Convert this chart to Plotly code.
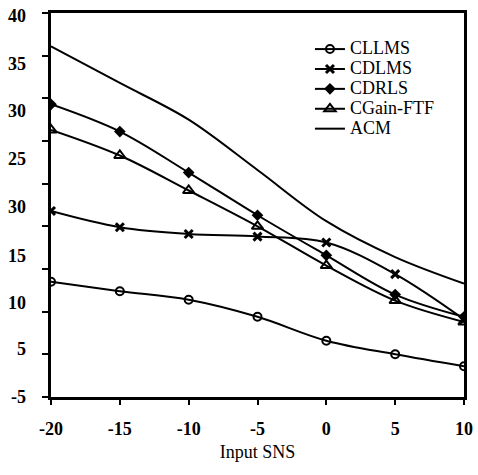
import plotly.graph_objects as go

snr = [-20, -15, -10, -5, 0, 5, 10]

cllms = [8.5, 7.4, 6.4, 4.4, 1.6, 0.0, -1.4]
cdlms = [16.8, 14.9, 14.1, 13.8, 13.1, 9.4, 4.1]
cdrls = [29.3, 26.1, 21.3, 16.3, 11.6, 7.0, 4.4]
cgain_ftf = [26.3, 23.3, 19.2, 15.0, 10.4, 6.3, 3.8]
acm = [36.1, 31.8, 27.5, 21.6, 15.6, 11.4, 8.3]

# tick marks sit on a 5-step grid, the printed labels drift below them
y_tick_vals = [40, 35, 30, 25, 20, 15, 10, 5, 0, -5]
y_label_pos = [39.7, 34.1, 28.6, 22.9, 17.3, 11.6, 6.0, 0.7, -5.0]
y_label_text = ["40", "35", "30", "25", "30", "15", "10", "5", "-5"]
x_tick_vals = [-20, -15, -10, -5, 0, 5, 10]
x_tick_text = ["-20", "-15", "-10", "-5", "0", "5", "10"]

FONT = "Liberation Serif"

series = [
    ("CLLMS", cllms, dict(symbol="circle-open", size=8, line=dict(width=2, color="black"))),
    ("CDLMS", cdlms, dict(symbol="x-thin-open", size=8, line=dict(width=3, color="black"))),
    ("CDRLS", cdrls, dict(symbol="diamond", size=9)),
    ("CGain-FTF", cgain_ftf, dict(symbol="triangle-up-open", size=10, line=dict(width=2, color="black"))),
]

# legend rows are tight in the original, so the row height comes from a
# small legend font while the label itself is drawn larger
big = lambda s: f'<span style="font-size:18px">{s}</span>'

fig = go.Figure()
for name, vals, marker in series:
    fig.add_trace(go.Scatter(
        x=snr, y=vals, name=big(name), mode="lines+markers",
        line=dict(color="black", width=2, shape="spline"),
        marker=dict(color="black", **marker),
    ))

fig.add_trace(go.Scatter(
    x=snr, y=acm, name=big("ACM"), mode="lines",
    line=dict(color="black", width=2, shape="spline"),
))

# invisible overlay axis that only carries the printed y labels
fig.add_trace(go.Scatter(x=[None], y=[None], yaxis="y2", showlegend=False, hoverinfo="skip"))

bold = lambda labels: [f"<b>{t}</b>" for t in labels]

fig.update_layout(
    width=478, height=475,
    margin=dict(l=51, r=14, t=13, b=78),
    paper_bgcolor="white", plot_bgcolor="white",
    font=dict(family=FONT, size=16, color="black"),
    showlegend=True,
    legend=dict(
        x=0.627, y=0.945, xanchor="left", yanchor="top",
        bgcolor="rgba(0,0,0,0)",
        font=dict(family=FONT, size=13, color="black"),
    ),
    xaxis=dict(
        range=[-20, 10], tickvals=x_tick_vals, ticktext=bold(x_tick_text),
        showline=True, linecolor="black", linewidth=2.5, mirror=True,
        ticks="outside", ticklen=5, tickwidth=2, tickcolor="black",
        showgrid=False, zeroline=False, automargin=False,
        tickfont=dict(family=FONT, size=18),
        ticklabelstandoff=9,
        title=dict(text="Input SNS", font=dict(family=FONT, size=18), standoff=8),
    ),
    yaxis=dict(
        range=[-5, 40], tickvals=y_tick_vals, showticklabels=False,
        showline=True, linecolor="black", linewidth=2.5, mirror=True,
        ticks="outside", ticklen=6, tickwidth=2, tickcolor="black",
        showgrid=False, zeroline=False, automargin=False,
    ),
    yaxis2=dict(
        range=[-5, 40], overlaying="y", side="left",
        tickvals=y_label_pos, ticktext=bold(y_label_text),
        ticks="", showline=False, showgrid=False, zeroline=False,
        automargin=False,
        tickfont=dict(family=FONT, size=18),
        ticklabelstandoff=24,
    ),
)

fig.write_html(
    "out.html",
    config={"displayModeBar": False},
    post_script="document.body.style.margin='0';",
)
